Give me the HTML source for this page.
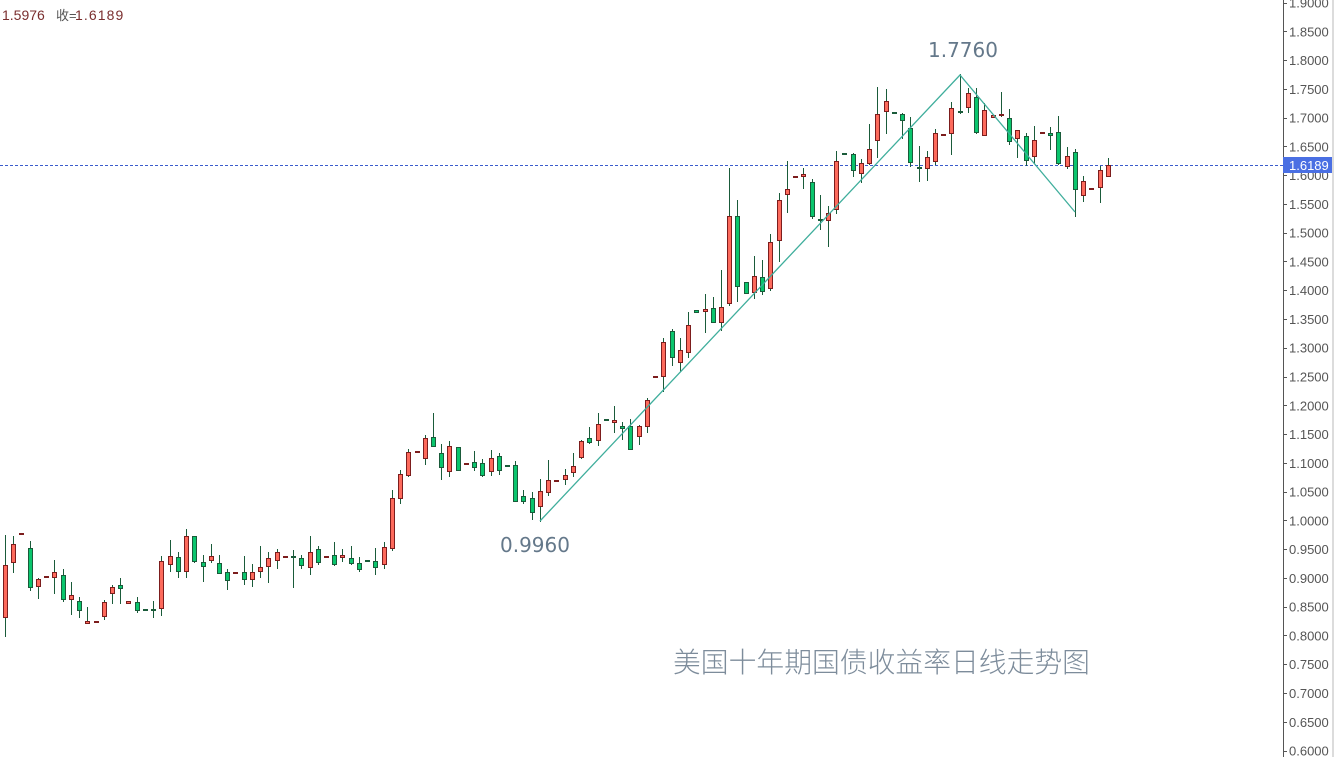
<!DOCTYPE html>
<html><head><meta charset="utf-8"><style>
html,body{margin:0;padding:0;background:#fff;}
svg{display:block;}
</style></head><body>
<svg width="1334" height="757" viewBox="0 0 1334 757" xmlns="http://www.w3.org/2000/svg">
<rect width="1334" height="757" fill="#fff"/>
<line x1="0" y1="165.5" x2="1283" y2="165.5" stroke="#3b5ccc" stroke-width="1" stroke-dasharray="3,2"/>
<g shape-rendering="crispEdges">
<path fill="#1a5b3a" d="M5 535h1v102h-1zM13 536h1v37h-1zM30 541h1v50h-1zM38 578h1v21h-1zM54 560h1v34h-1zM63 569h1v33h-1zM71 582h1v33h-1zM79 597h1v21h-1zM87 607h1v17h-1zM104 600h1v20h-1zM112 585h1v19h-1zM120 578h1v26h-1zM137 597h1v16h-1zM153 601h1v17h-1zM161 556h1v60h-1zM170 540h1v32h-1zM178 552h1v26h-1zM186 529h1v49h-1zM194 536h1v27h-1zM203 555h1v27h-1zM211 544h1v19h-1zM219 555h1v19h-1zM227 569h1v21h-1zM244 556h1v29h-1zM252 564h1v23h-1zM260 546h1v32h-1zM268 552h1v31h-1zM277 549h1v20h-1zM293 550h1v38h-1zM301 555h1v14h-1zM310 536h1v39h-1zM318 546h1v19h-1zM334 542h1v24h-1zM342 549h1v13h-1zM351 546h1v19h-1zM359 557h1v15h-1zM375 548h1v27h-1zM384 542h1v27h-1zM392 490h1v61h-1zM400 470h1v34h-1zM408 449h1v28h-1zM425 435h1v30h-1zM433 413h1v34h-1zM441 444h1v36h-1zM449 441h1v36h-1zM474 451h1v20h-1zM482 459h1v18h-1zM491 450h1v26h-1zM499 453h1v22h-1zM515 461h1v41h-1zM523 490h1v14h-1zM532 492h1v28h-1zM540 479h1v43h-1zM548 460h1v36h-1zM565 469h1v16h-1zM573 453h1v24h-1zM581 440h1v19h-1zM589 427h1v17h-1zM598 413h1v33h-1zM614 406h1v27h-1zM622 422h1v18h-1zM630 419h1v31h-1zM639 425h1v20h-1zM647 398h1v35h-1zM663 338h1v54h-1zM672 329h1v37h-1zM680 338h1v34h-1zM688 312h1v46h-1zM705 294h1v39h-1zM713 297h1v26h-1zM721 270h1v61h-1zM729 168h1v138h-1zM737 200h1v102h-1zM754 256h1v43h-1zM762 260h1v35h-1zM770 234h1v57h-1zM779 193h1v69h-1zM787 161h1v52h-1zM803 168h1v21h-1zM812 179h1v40h-1zM820 195h1v35h-1zM828 206h1v41h-1zM836 151h1v63h-1zM853 153h1v24h-1zM861 159h1v24h-1zM869 124h1v41h-1zM877 87h1v71h-1zM886 89h1v45h-1zM902 113h1v26h-1zM910 117h1v50h-1zM919 146h1v36h-1zM927 151h1v30h-1zM935 129h1v36h-1zM951 102h1v53h-1zM960 74h1v40h-1zM968 88h1v25h-1zM976 88h1v46h-1zM984 103h1v33h-1zM1001 92h1v25h-1zM1009 109h1v36h-1zM1017 130h1v28h-1zM1026 133h1v33h-1zM1034 126h1v38h-1zM1050 127h1v23h-1zM1058 116h1v49h-1zM1067 147h1v22h-1zM1075 149h1v68h-1zM1083 176h1v26h-1zM1100 166h1v37h-1zM1108 158h1v19h-1z"/>
<path fill="#7c1d1d" d="M3 565h5v53h-5zM11 544h5v19h-5zM19 533h5v2h-5zM36 579h5v8h-5zM44 576h5v2h-5zM52 572h5v6h-5zM69 595h5v5h-5zM85 621h5v3h-5zM94 621h5v2h-5zM102 602h5v15h-5zM110 587h5v7h-5zM126 601h5v3h-5zM159 561h5v48h-5zM168 556h5v9h-5zM184 536h5v36h-5zM209 556h5v5h-5zM233 572h5v2h-5zM250 572h5v8h-5zM258 567h5v5h-5zM266 558h5v9h-5zM275 552h5v9h-5zM283 556h5v2h-5zM308 552h5v16h-5zM324 556h5v2h-5zM340 555h5v3h-5zM382 547h5v18h-5zM390 498h5v51h-5zM398 474h5v25h-5zM406 452h5v24h-5zM415 451h5v2h-5zM423 438h5v21h-5zM447 446h5v26h-5zM464 463h5v2h-5zM489 458h5v14h-5zM538 491h5v16h-5zM546 480h5v13h-5zM554 480h5v2h-5zM563 475h5v5h-5zM571 466h5v7h-5zM579 441h5v17h-5zM596 424h5v17h-5zM612 420h5v3h-5zM637 426h5v11h-5zM645 400h5v27h-5zM653 376h5v2h-5zM661 342h5v35h-5zM678 350h5v13h-5zM686 325h5v28h-5zM703 309h5v3h-5zM719 307h5v16h-5zM727 216h5v88h-5zM752 276h5v17h-5zM768 242h5v47h-5zM777 200h5v41h-5zM785 189h5v6h-5zM793 176h5v2h-5zM801 174h5v3h-5zM826 213h5v8h-5zM834 161h5v49h-5zM859 163h5v11h-5zM867 149h5v15h-5zM875 114h5v27h-5zM884 101h5v11h-5zM925 157h5v12h-5zM933 133h5v29h-5zM941 134h5v2h-5zM949 108h5v26h-5zM966 93h5v15h-5zM982 110h5v26h-5zM991 115h5v3h-5zM999 114h5v2h-5zM1015 130h5v9h-5zM1032 140h5v17h-5zM1040 132h5v2h-5zM1065 156h5v11h-5zM1081 181h5v15h-5zM1089 188h5v2h-5zM1098 170h5v18h-5zM1106 165h5v12h-5z"/>
<path fill="#fd6a5c" d="M4 566h3v51h-3zM12 545h3v17h-3zM37 580h3v6h-3zM53 573h3v4h-3zM70 596h3v3h-3zM86 622h3v1h-3zM103 603h3v13h-3zM111 588h3v5h-3zM127 602h3v1h-3zM160 562h3v46h-3zM169 557h3v7h-3zM185 537h3v34h-3zM210 557h3v3h-3zM251 573h3v6h-3zM259 568h3v3h-3zM267 559h3v7h-3zM276 553h3v7h-3zM309 553h3v14h-3zM341 556h3v1h-3zM383 548h3v16h-3zM391 499h3v49h-3zM399 475h3v23h-3zM407 453h3v22h-3zM424 439h3v19h-3zM448 447h3v24h-3zM490 459h3v12h-3zM539 492h3v14h-3zM547 481h3v11h-3zM564 476h3v3h-3zM572 467h3v5h-3zM580 442h3v15h-3zM597 425h3v15h-3zM613 421h3v1h-3zM638 427h3v9h-3zM646 401h3v25h-3zM662 343h3v33h-3zM679 351h3v11h-3zM687 326h3v26h-3zM704 310h3v1h-3zM720 308h3v14h-3zM728 217h3v86h-3zM753 277h3v15h-3zM769 243h3v45h-3zM778 201h3v39h-3zM786 190h3v4h-3zM802 175h3v1h-3zM827 214h3v6h-3zM835 162h3v47h-3zM860 164h3v9h-3zM868 150h3v13h-3zM876 115h3v25h-3zM885 102h3v9h-3zM926 158h3v10h-3zM934 134h3v27h-3zM950 109h3v24h-3zM967 94h3v13h-3zM983 111h3v24h-3zM992 116h3v1h-3zM1016 131h3v7h-3zM1033 141h3v15h-3zM1066 157h3v9h-3zM1082 182h3v13h-3zM1099 171h3v16h-3zM1107 166h3v10h-3z"/>
<path fill="#1a5b3a" d="M28 548h5v40h-5zM61 575h5v25h-5zM77 601h5v10h-5zM118 585h5v4h-5zM135 602h5v9h-5zM143 609h5v2h-5zM151 609h5v2h-5zM176 557h5v15h-5zM192 536h5v26h-5zM201 562h5v5h-5zM217 563h5v11h-5zM225 572h5v9h-5zM242 572h5v8h-5zM291 556h5v2h-5zM299 558h5v8h-5zM316 549h5v14h-5zM332 555h5v10h-5zM349 558h5v6h-5zM357 563h5v7h-5zM365 560h5v2h-5zM373 561h5v7h-5zM431 437h5v10h-5zM439 453h5v15h-5zM456 447h5v24h-5zM472 462h5v6h-5zM480 463h5v13h-5zM497 456h5v15h-5zM505 465h5v2h-5zM513 465h5v37h-5zM521 496h5v6h-5zM530 498h5v15h-5zM587 438h5v5h-5zM604 419h5v2h-5zM620 426h5v3h-5zM628 426h5v24h-5zM670 331h5v27h-5zM694 310h5v3h-5zM711 308h5v15h-5zM735 216h5v71h-5zM744 282h5v12h-5zM760 277h5v15h-5zM810 182h5v35h-5zM818 219h5v2h-5zM842 153h5v2h-5zM851 154h5v17h-5zM892 112h5v2h-5zM900 114h5v7h-5zM908 128h5v35h-5zM917 167h5v2h-5zM958 111h5v2h-5zM974 97h5v36h-5zM1007 118h5v24h-5zM1024 136h5v25h-5zM1048 133h5v3h-5zM1056 132h5v32h-5zM1073 152h5v38h-5z"/>
<path fill="#0ac56d" d="M29 549h3v38h-3zM62 576h3v23h-3zM78 602h3v8h-3zM119 586h3v2h-3zM136 603h3v7h-3zM177 558h3v13h-3zM193 537h3v24h-3zM202 563h3v3h-3zM218 564h3v9h-3zM226 573h3v7h-3zM243 573h3v6h-3zM300 559h3v6h-3zM317 550h3v12h-3zM333 556h3v8h-3zM350 559h3v4h-3zM358 564h3v5h-3zM374 562h3v5h-3zM432 438h3v8h-3zM440 454h3v13h-3zM457 448h3v22h-3zM473 463h3v4h-3zM481 464h3v11h-3zM498 457h3v13h-3zM514 466h3v35h-3zM522 497h3v4h-3zM531 499h3v13h-3zM588 439h3v3h-3zM621 427h3v1h-3zM629 427h3v22h-3zM671 332h3v25h-3zM695 311h3v1h-3zM712 309h3v13h-3zM736 217h3v69h-3zM745 283h3v10h-3zM761 278h3v13h-3zM811 183h3v33h-3zM852 155h3v15h-3zM901 115h3v5h-3zM909 129h3v33h-3zM975 98h3v34h-3zM1008 119h3v22h-3zM1025 137h3v23h-3zM1049 134h3v1h-3zM1057 133h3v30h-3zM1074 153h3v36h-3z"/>
</g>
<polyline points="540,521 960,75 1075,212" fill="none" stroke="#3fae9c" stroke-width="1.3"/>
<text x="500" y="552" font-family="DejaVu Sans, sans-serif" font-size="20" fill="#64788a">0.9960</text>
<text x="928" y="57" font-family="DejaVu Sans, sans-serif" font-size="20" fill="#64788a">1.7760</text>
<text x="673" y="672" font-family="Noto Sans CJK SC, sans-serif" font-weight="300" font-size="28" fill="#7d8c9b" textLength="417" lengthAdjust="spacingAndGlyphs">美国十年期国债收益率日线走势图</text>
<text x="2" y="20" font-family="Liberation Sans, sans-serif" font-size="14" fill="#7a2e2e">1.5976</text>
<text x="56" y="20" font-family="Liberation Sans, Noto Sans CJK SC, sans-serif" font-size="13" fill="#555">收=</text>
<text x="75" y="20" font-family="Liberation Sans, sans-serif" font-size="14" letter-spacing="1.1" fill="#7a2e2e">1.6189</text>
<g shape-rendering="crispEdges">
<rect x="1283" y="0" width="1" height="757" fill="#555"/>
<rect x="1332" y="0" width="2" height="757" fill="#dcdcdc"/>
<path stroke="#555" stroke-width="1" d="M1283 3.5h4M1283 31.5h4M1283 60.5h4M1283 89.5h4M1283 118.5h4M1283 146.5h4M1283 175.5h4M1283 204.5h4M1283 233.5h4M1283 261.5h4M1283 290.5h4M1283 319.5h4M1283 348.5h4M1283 377.5h4M1283 405.5h4M1283 434.5h4M1283 463.5h4M1283 492.5h4M1283 520.5h4M1283 549.5h4M1283 578.5h4M1283 607.5h4M1283 635.5h4M1283 664.5h4M1283 693.5h4M1283 722.5h4M1283 751.5h4"/>
</g>
<g font-family="Liberation Sans, sans-serif" font-size="13" fill="#555">
<text x="1289" y="7.5">1.9000</text>
<text x="1289" y="36.3">1.8500</text>
<text x="1289" y="65">1.8000</text>
<text x="1289" y="93.8">1.7500</text>
<text x="1289" y="122.6">1.7000</text>
<text x="1289" y="151.4">1.6500</text>
<text x="1289" y="180.1">1.6000</text>
<text x="1289" y="208.9">1.5500</text>
<text x="1289" y="237.7">1.5000</text>
<text x="1289" y="266.4">1.4500</text>
<text x="1289" y="295.2">1.4000</text>
<text x="1289" y="324">1.3500</text>
<text x="1289" y="352.7">1.3000</text>
<text x="1289" y="381.5">1.2500</text>
<text x="1289" y="410.3">1.2000</text>
<text x="1289" y="439.1">1.1500</text>
<text x="1289" y="467.8">1.1000</text>
<text x="1289" y="496.6">1.0500</text>
<text x="1289" y="525.4">1.0000</text>
<text x="1289" y="554.1">0.9500</text>
<text x="1289" y="582.9">0.9000</text>
<text x="1289" y="611.7">0.8500</text>
<text x="1289" y="640.4">0.8000</text>
<text x="1289" y="669.2">0.7500</text>
<text x="1289" y="698">0.7000</text>
<text x="1289" y="726.8">0.6500</text>
<text x="1289" y="755.5">0.6000</text>
</g>
<rect x="1283" y="157" width="49" height="16" fill="#4a6fe3" shape-rendering="crispEdges"/>
<text x="1289" y="170" font-family="Liberation Sans, sans-serif" font-size="13" fill="#fff">1.6189</text>
</svg>
</body></html>
